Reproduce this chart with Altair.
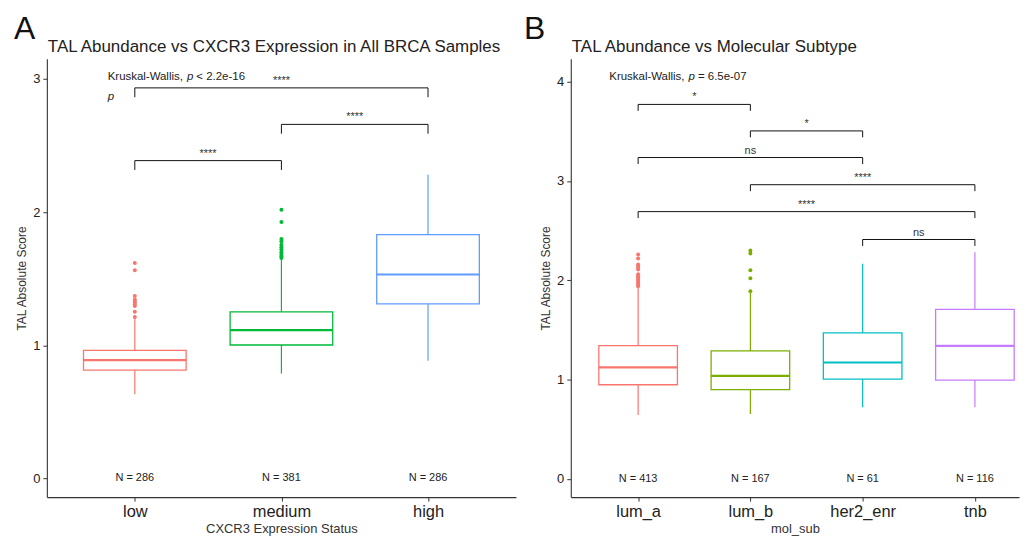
import altair as alt
import pandas as pd

FONT = "Liberation Sans"

# ---------------- Panel A data ----------------
a_groups = ["low", "medium", "high"]
a_lower = [0.633, 0.788, 0.883]
a_q1 = [0.813, 1.002, 1.311]
a_median = [0.888, 1.114, 1.531]
a_q3 = [0.962, 1.251, 1.830]
a_upper = [1.206, 1.643, 2.279]
a_n = [286, 381, 286]
a_outliers = {
    "low": [1.212, 1.251, 1.294, 1.307, 1.319, 1.332, 1.344, 1.369, 1.563, 1.618],
    "medium": [1.655, 1.668, 1.681, 1.698, 1.718, 1.735, 1.755, 1.780, 1.797, 1.925, 2.017],
    "high": [],
}
a_colors = ["#F8766D", "#00BA38", "#619CFF"]
a_br_from = ["low", "medium", "low"]
a_br_to = ["medium", "high", "high"]
a_br_y = [2.386, 2.658, 2.932]
a_br_label = ["****", "****", "****"]
a_kw_p = "< 2.2e-16"

# ---------------- Panel B data ----------------
b_groups = ["lum_a", "lum_b", "her2_enr", "tnb"]
b_lower = [0.643, 0.653, 0.719, 0.719]
b_q1 = [0.947, 0.897, 1.004, 0.994]
b_median = [1.121, 1.037, 1.171, 1.338]
b_q3 = [1.341, 1.288, 1.469, 1.707]
b_upper = [1.924, 1.870, 2.165, 2.282]
b_n = [413, 167, 61, 116]
b_outliers = {
    "lum_a": [1.940, 1.958, 1.974, 1.991, 2.008, 2.024, 2.041, 2.060, 2.109,
              2.125, 2.142, 2.159, 2.219, 2.260],
    "lum_b": [1.890, 2.020, 2.100, 2.270, 2.300],
    "her2_enr": [],
    "tnb": [],
}
b_colors = ["#F8766D", "#7CAE00", "#00BFC4", "#C77CFF"]
b_br_from = ["lum_a", "lum_b", "lum_a", "lum_b", "lum_a", "her2_enr"]
b_br_to = ["lum_b", "her2_enr", "her2_enr", "tnb", "tnb", "tnb"]
b_br_y = [3.771, 3.504, 3.236, 2.962, 2.691, 2.410]
b_br_label = ["*", "*", "ns", "****", "****", "ns"]
b_kw_p = "= 6.5e-07"


def make_panel(key, groups, lower, q1, median, q3, upper, n, outliers, colors,
               br_from, br_to, br_y, br_label, kw_p,
               title, letter, xtitle, ydomain, yvalues, xmax, width,
               tip, kw_x, kw_y, letter_x, extra_p=None):
    half = 0.35
    pos = {g: i + 1 for i, g in enumerate(groups)}
    stats = pd.DataFrame({
        "group": groups, "pos": [pos[g] for g in groups],
        "lower": lower, "q1": q1, "median": median, "q3": q3, "upper": upper,
        "nlab": [f"N = {v}" for v in n], "zero": [0] * len(groups),
    })
    stats["x1"] = stats["pos"] - half
    stats["x2"] = stats["pos"] + half

    out_rows = [{"group": g, "pos": pos[g], "value": v}
                for g in groups for v in outliers[g]]
    outs = pd.DataFrame(out_rows, columns=["group", "pos", "value"])

    segs = []
    for a, b, y in zip(br_from, br_to, br_y):
        xa, xb = pos[a], pos[b]
        segs.append(dict(x=xa, x2=xb, y=y, y2=y))
        segs.append(dict(x=xa, x2=xa, y=y, y2=y - tip))
        segs.append(dict(x=xb, x2=xb, y=y, y2=y - tip))
    segs = pd.DataFrame(segs)
    labs = pd.DataFrame({
        "x": [(pos[a] + pos[b]) / 2 for a, b in zip(br_from, br_to)],
        "y": br_y, "label": br_label,
    })

    label_js = "[" + ",".join(f"'{g}'" for g in groups) + "][datum.value - 1]"
    xscale = alt.Scale(domain=[0.4, xmax], nice=False, zero=False)
    yscale = alt.Scale(domain=ydomain, nice=False, zero=False)
    xaxis = alt.Axis(values=list(range(1, len(groups) + 1)), labelExpr=label_js,
                     title=xtitle, grid=False, tickSize=4, tickColor="#333333",
                     domainColor="#333333", domainWidth=1.1, labelFontSize=16.5,
                     labelColor="#222222", labelPadding=2, titleFontSize=13,
                     titleFontWeight="normal", titleColor="#333333",
                     titlePadding=3, labelFont=FONT, titleFont=FONT)
    yaxis = alt.Axis(values=yvalues, title="TAL Absolute Score", grid=False,
                     tickSize=4, tickColor="#333333", domainColor="#333333",
                     domainWidth=1.1, labelFontSize=13, labelColor="#222222",
                     labelPadding=3, titleFontSize=12, titleFontWeight="normal",
                     titleColor="#333333", titlePadding=4, minExtent=14,
                     maxExtent=14, labelFont=FONT, titleFont=FONT, format="d")
    cfield = f"{key}:N"
    color = alt.Color(cfield, scale=alt.Scale(domain=groups, range=colors),
                      legend=None)
    stats[key] = stats["group"]
    outs[key] = outs["group"]

    def X(f):
        return alt.X(f, scale=xscale, axis=xaxis)

    def Y(f):
        return alt.Y(f, scale=yscale, axis=yaxis)

    base = alt.Chart(stats)
    whisk = base.mark_rule(strokeWidth=1.2).encode(
        x=X("pos:Q"), y=Y("lower:Q"), y2="upper:Q", color=color)
    box = base.mark_rect(fill="white", strokeWidth=1.3).encode(
        x=X("x1:Q"), x2="x2:Q", y=Y("q1:Q"), y2="q3:Q", stroke=alt.Stroke(
            cfield, scale=alt.Scale(domain=groups, range=colors), legend=None))
    med = base.mark_rule(strokeWidth=2.2).encode(
        x=X("x1:Q"), x2="x2:Q", y=Y("median:Q"), color=color)
    pts = alt.Chart(outs).mark_circle(size=16, opacity=1).encode(
        x=X("pos:Q"), y=Y("value:Q"), color=color)
    nlab = base.mark_text(font=FONT, fontSize=11, color="#222222",
                          baseline="middle").encode(
        x=X("pos:Q"), y=Y("zero:Q"), text="nlab:N")
    br = alt.Chart(segs).mark_rule(color="#111111", strokeWidth=1).encode(
        x=X("x:Q"), x2="x2:Q", y=Y("y:Q"), y2="y2:Q")
    brl = alt.Chart(labs).mark_text(font=FONT, fontSize=11, color="#333333",
                                    baseline="alphabetic", dy=-4).encode(
        x=X("x:Q"), y=Y("y:Q"), text="label:N")

    kw = pd.DataFrame({"x": [kw_x], "y": [kw_y], "a": ["Kruskal-Wallis,"],
                       "b": ["p"], "c": [kw_p]})
    kw_base = alt.Chart(kw)
    kw1 = kw_base.mark_text(font=FONT, fontSize=11.5, color="#222222",
                            align="left", baseline="middle").encode(
        x=X("x:Q"), y=Y("y:Q"), text="a:N")
    kw2 = kw_base.mark_text(font=FONT, fontSize=11.5, color="#222222",
                            align="left", baseline="middle", fontStyle="italic",
                            dx=79.5).encode(x=X("x:Q"), y=Y("y:Q"), text="b:N")
    kw3 = kw_base.mark_text(font=FONT, fontSize=11.5, color="#222222",
                            align="left", baseline="middle", dx=89).encode(
        x=X("x:Q"), y=Y("y:Q"), text="c:N")
    layers = [whisk, box, med, pts, nlab, br, brl, kw1, kw2, kw3]
    if extra_p is not None:
        pdf = pd.DataFrame({"x": [kw_x], "y": [extra_p], "b": ["p"]})
        layers.append(alt.Chart(pdf).mark_text(
            font=FONT, fontSize=11.5, color="#222222", align="left",
            baseline="middle", fontStyle="italic").encode(
            x=X("x:Q"), y=Y("y:Q"), text="b:N"))
    heads = pd.DataFrame({"t": [letter], "title": [title]})
    layers.append(alt.Chart(heads).mark_text(
        font=FONT, fontSize=32, color="#111111", align="left",
        baseline="alphabetic").encode(
        x=alt.value(letter_x), y=alt.value(-20), text="t:N"))
    layers.append(alt.Chart(heads).mark_text(
        font=FONT, fontSize=17, color="#222222", align="left",
        baseline="alphabetic").encode(
        x=alt.value(1), y=alt.value(-7), text="title:N"))

    return alt.layer(*layers).properties(width=width, height=440)


panel_a = make_panel("ga", a_groups, a_lower, a_q1, a_median, a_q3, a_upper, a_n,
                     a_outliers, a_colors, a_br_from, a_br_to, a_br_y,
                     a_br_label, a_kw_p,
                     "TAL Abundance vs CXCR3 Expression in All BRCA Samples",
                     "A", "CXCR3 Expression Status", [-0.14, 3.15],
                     [0, 1, 2, 3], 3.6, 471, 0.07, 0.815, 3.01, -33,
                     extra_p=2.865)
panel_b = make_panel("gb", b_groups, b_lower, b_q1, b_median, b_q3, b_upper, b_n,
                     b_outliers, b_colors, b_br_from, b_br_to, b_br_y,
                     b_br_label, b_kw_p,
                     "TAL Abundance vs Molecular Subtype",
                     "B", "mol_sub", [-0.185, 4.23],
                     [0, 1, 2, 3, 4], 0.4 + 450 / 112.7, 450, 0.065, 0.743,
                     4.05, -47)

chart = alt.hconcat(panel_a, panel_b, spacing=6).resolve_scale(
    color="independent", stroke="independent"
).properties(
    padding={"left": 5, "top": 3, "right": 0, "bottom": 0},
    background="white",
).configure(
    font=FONT,
    view=alt.ViewConfig(stroke="transparent"),
)

chart.save("out.html", embed_options={"renderer": "svg", "actions": False})
